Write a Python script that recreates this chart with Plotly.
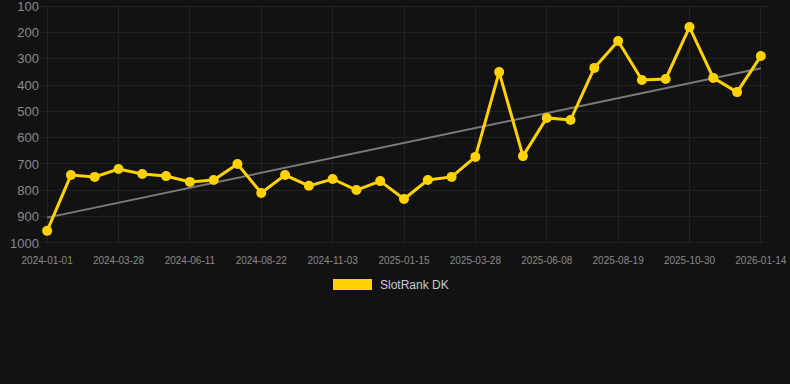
import numpy as np
import plotly.graph_objects as go

dates = [
    "2024-01-01", "2024-01-30", "2024-02-28", "2024-03-28", "2024-04-22", "2024-05-17",
    "2024-06-11", "2024-07-05", "2024-07-29", "2024-08-22", "2024-09-15", "2024-10-09",
    "2024-11-03", "2024-11-27", "2024-12-21", "2025-01-15", "2025-02-08", "2025-03-04",
    "2025-03-28", "2025-04-21", "2025-05-15", "2025-06-08", "2025-07-02", "2025-07-26",
    "2025-08-19", "2025-09-12", "2025-10-06", "2025-10-30", "2025-11-24", "2025-12-19",
    "2026-01-14",
]
ranks = [
    954, 742, 749, 719, 738, 746, 768, 761, 700, 810,
    742, 783, 757, 799, 765, 833, 761, 749, 673, 351,
    670, 525, 533, 335, 233, 381, 377, 180, 373, 427,
    290,
]
tick_labels = dates[::3]
y_ticks = [100, 200, 300, 400, 500, 600, 700, 800, 900, 1000]
series_name = "SlotRank DK"

idx = np.arange(len(ranks))
slope, intercept = np.polyfit(idx, ranks, 1)
trend = slope * idx + intercept

fig = go.Figure()
fig.add_trace(go.Scatter(
    x=dates, y=trend, mode="lines",
    line=dict(color="#7a7a7a", width=2),
    showlegend=False, hoverinfo="skip",
))
fig.add_trace(go.Scatter(
    x=dates, y=ranks, mode="lines+markers", name=series_name,
    line=dict(color="#FFD200", width=3),
    marker=dict(color="#FFD200", size=10),
    showlegend=False,
))

fig.update_layout(
    width=790, height=384,
    margin=dict(l=40, r=22, t=5, b=140),
    paper_bgcolor="#121212", plot_bgcolor="#121212",
    font=dict(family="Liberation Sans, Arial, sans-serif", color="#888888"),
    showlegend=False,
    xaxis=dict(
        type="category", range=[-0.3, 30.3],
        tickmode="array", tickvals=tick_labels, ticktext=tick_labels,
        tickfont=dict(size=10, color="#8a8a8a"),
        ticklabelstandoff=9, automargin=False,
        showgrid=True, gridcolor="#222222", gridwidth=1,
        zeroline=False, showline=False, ticks="",
    ),
    yaxis=dict(
        range=[1004, 96], tickmode="array", tickvals=y_ticks,
        tickfont=dict(size=13, color="#8a8a8a"),
        ticklabeloverflow="allow", automargin=False,
        showgrid=True, gridcolor="#222222", gridwidth=1,
        zeroline=False, showline=False, ticks="",
    ),
    shapes=[dict(
        type="rect", xref="paper", yref="paper",
        x0=(333 - 40) / 728, x1=(372 - 40) / 728,
        y0=(244 - 290) / 239, y1=(244 - 279) / 239,
        fillcolor="#FFD200", line=dict(width=0),
    )],
    annotations=[dict(
        text=series_name, xref="paper", yref="paper",
        x=(378 - 40) / 728, y=(244 - 285) / 239,
        xanchor="left", yanchor="middle", showarrow=False,
        font=dict(size=12, color="#cccccc"),
    )],
)

fig.write_html("out.html")
